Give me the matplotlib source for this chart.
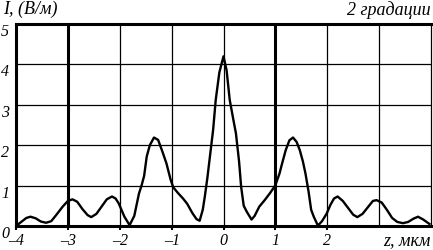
import matplotlib
matplotlib.use('Agg')
import matplotlib.pyplot as plt

z = [-3.97, -3.88, -3.80, -3.72, -3.62, -3.52, -3.42, -3.32, -3.22, -3.10,
     -3.00, -2.91, -2.82, -2.72, -2.62, -2.55, -2.45, -2.35, -2.25, -2.15,
     -2.08, -2.02, -1.91, -1.81, -1.72, -1.63, -1.58, -1.53, -1.48, -1.42,
     -1.34, -1.26, -1.18, -1.10, -1.02, -0.97, -0.88, -0.78, -0.70, -0.60,
     -0.52, -0.46, -0.40, -0.36, -0.31, -0.27, -0.20, -0.15, -0.08, 0.00,
     0.06, 0.12, 0.18, 0.24, 0.30, 0.34, 0.39, 0.45, 0.54, 0.60,
     0.69, 0.80, 0.90, 1.00, 1.08, 1.13, 1.20, 1.27, 1.34, 1.41,
     1.47, 1.53, 1.58, 1.64, 1.69, 1.74, 1.82, 1.90, 1.99, 2.06,
     2.13, 2.20, 2.30, 2.40, 2.50, 2.58, 2.68, 2.78, 2.88, 2.95,
     3.05, 3.15, 3.25, 3.35, 3.46, 3.56, 3.66, 3.75, 3.85, 3.97]
intensity = [0.03, 0.12, 0.20, 0.23, 0.19, 0.11, 0.08, 0.12, 0.28, 0.48,
             0.62, 0.66, 0.60, 0.42, 0.27, 0.22, 0.30, 0.48, 0.66, 0.73,
             0.68, 0.56, 0.23, 0.02, 0.25, 0.80, 1.00, 1.24, 1.72, 2.00,
             2.19, 2.13, 1.85, 1.55, 1.15, 0.96, 0.82, 0.68, 0.55, 0.32,
             0.17, 0.13, 0.40, 0.73, 1.20, 1.63, 2.38, 3.12, 3.80, 4.20,
             3.85, 3.12, 2.70, 2.29, 1.60, 0.97, 0.50, 0.35, 0.16, 0.25,
             0.48, 0.65, 0.82, 1.01, 1.30, 1.55, 1.88, 2.12, 2.19, 2.08,
             1.88, 1.60, 1.30, 0.85, 0.40, 0.23, 0.01, 0.12, 0.31, 0.52,
             0.68, 0.73, 0.62, 0.45, 0.28, 0.22, 0.30, 0.46, 0.62, 0.64,
             0.58, 0.40, 0.20, 0.10, 0.07, 0.10, 0.18, 0.23, 0.16, 0.05]

x_ticks = [-4, -3, -2, -1, 0, 1, 2]
x_labels = ['\u20134', '\u20133', '\u20132', '\u20131', '0', '1', '2']
y_ticks = [0, 1, 2, 3, 4, 5]
thick_x = [-3, 1]

tick_font = {'family': 'Liberation Serif', 'style': 'italic', 'size': 11.5}
label_font = {'family': 'Liberation Serif', 'style': 'italic', 'size': 13}

fig = plt.figure(figsize=(4.33, 2.5), dpi=100)
ax = fig.add_axes([16 / 433, 24 / 250, 415 / 433, 202 / 250])
ax.set_xlim(-4, 4)
ax.set_ylim(0, 5)

# grid: two of the vertical lines are drawn heavier
for xv in [-3, -2, -1, 0, 1, 2, 3]:
    lw = 2.2 if xv in thick_x else 0.9
    ax.axvline(xv, color='black', lw=lw, zorder=1)
for yv in [1, 2, 3, 4]:
    ax.axhline(yv, color='black', lw=0.9, zorder=1)

ax.plot(z, intensity, color='black', lw=1.7, zorder=3)

for side in ['left', 'top', 'bottom']:
    ax.spines[side].set_linewidth(2.2)
ax.spines['right'].set_linewidth(0.9)

ax.set_xticks(x_ticks)
ax.set_xticklabels(x_labels, fontdict=tick_font)
ax.set_yticks(y_ticks)
ax.set_yticklabels([str(v) for v in y_ticks], fontdict=tick_font)
for lab in ax.get_yticklabels():
    lab.set_va('top')
ax.tick_params(axis='x', direction='out', length=3, width=1.5, pad=2)
ax.tick_params(axis='y', length=0, pad=5)

fig.text(3 / 433, 1 - 1 / 250, 'I, (В/м)', ha='left', va='top', **label_font)
fig.text(431 / 433, 1 - 1 / 250, '2 градации', ha='right', va='top', **label_font)
fig.text(431 / 433, 1 - 232 / 250, 'z, мкм', ha='right', va='top', **label_font)

fig.savefig('out.png', dpi=100)
